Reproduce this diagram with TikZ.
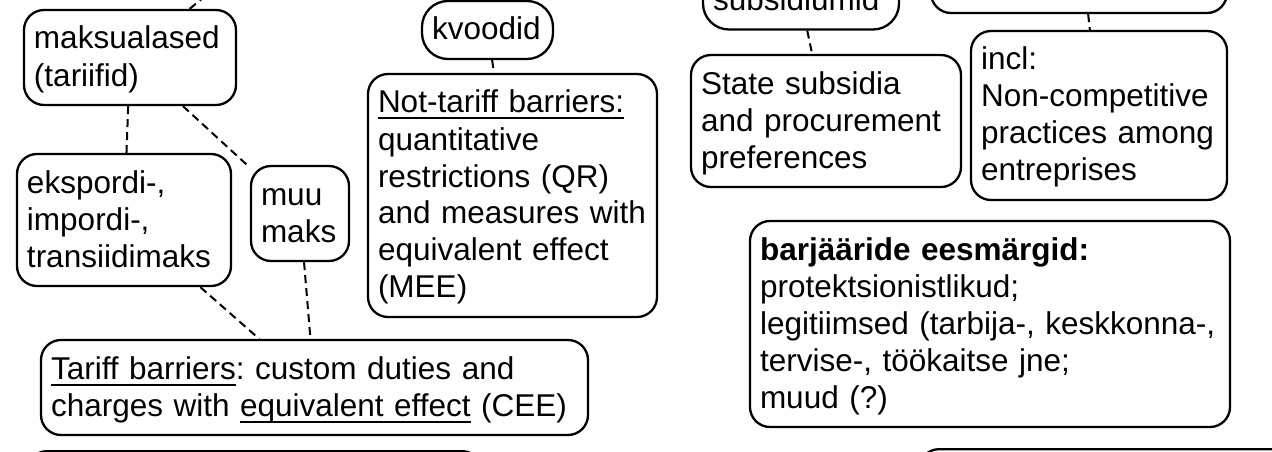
\documentclass[tikz,border=0pt]{standalone}
\usepackage{fontspec}
\setmainfont{Liberation Sans}
\setlength{\parindent}{0pt}
\frenchspacing
\newcommand{\sr}{\rule[-8.5pt]{0pt}{37pt}}
\newcommand{\ulx}[1]{\setbox0=\hbox{#1}\rlap{\rule[-6.5pt]{\wd0}{2pt}}\box0\relax}
\begin{document}
\begin{tikzpicture}[x=1pt,y=-1pt,
  box/.style={draw, line width=2.3pt, rounded corners=20pt, align=left,
    inner xsep=10pt, inner ysep=10.5pt, font=\fontsize{31.5}{37}\selectfont\frenchspacing},
  pill/.style={box, rounded corners=26pt},
  blank/.style={draw, line width=2.3pt, rounded corners=20pt, inner sep=0pt},
  link/.style={line width=2pt, dash pattern=on 8pt off 5pt}]
\useasboundingbox (0,0) rectangle (1272,452);
\clip (0,0) rectangle (1272,452);

% left group
\node[box, text width=192pt] (maks) at (130,57.5) {\sr maksualased\\\sr (tariifid)};
\node[box, text width=194pt] (eks) at (124,220) {\sr ekspordi-,\\\sr impordi-,\\\sr transiidimaks};
\node[box, text width=78pt] (muu) at (300,213.5) {\sr muu\\\sr maks};
\node[box, text width=527pt] (tar) at (314.5,387.5) {\sr \ulx{Tariff barriers}: custom duties and\\\sr charges with \ulx{equivalent effect} (CEE)};
\node[pill, text width=111pt] (kvo) at (487.5,30) {\sr kvoodid};
\node[box, text width=269pt] (nt) at (512.5,195.5) {\sr \ulx{Not-tariff barriers:}\\\sr quantitative\\\sr restrictions (QR)\\\sr and measures with\\\sr equivalent effect\\\sr (MEE)};
\node[blank, minimum width=455pt, minimum height=100pt, anchor=north] (botl) at (254.5,450) {};

% right group
\node[pill, text width=176pt] (subs) at (801,0.5) {\sr subsidiumid};
\node[box, text width=250pt] (state) at (826,121) {\sr State subsidia\\\sr and procurement\\\sr preferences};
\node[blank, minimum width=296pt, minimum height=169pt] (topr) at (1079,-71.5) {};
\node[box, text width=236pt] (incl) at (1099,115.5) {\sr incl:\\\sr Non-competitive\\\sr practices among\\\sr entreprises};
\node[box, text width=460pt] (barj) at (990,324) {\sr \textbf{barjääride eesmärgid:}\\\sr protektsionistlikud;\\\sr legitiimsed (tarbija-, keskkonna-,\\\sr tervise-, töökaitse jne;\\\sr muud (?)};
\node[blank, minimum width=420pt, minimum height=100pt, anchor=north west] (botr) at (918,448) {};

\coordinate (up) at (217,-13.5);

% connectors
\draw[link] (maks) -- (up);
\draw[link] (maks) -- (eks);
\draw[link] (maks) -- (muu);
\draw[link] (eks) -- (tar);
\draw[link] (muu) -- (tar);
\draw[link] (kvo) -- (nt);
\draw[link] (subs) -- (state);
\draw[link] (topr) -- (incl);
\end{tikzpicture}
\end{document}
